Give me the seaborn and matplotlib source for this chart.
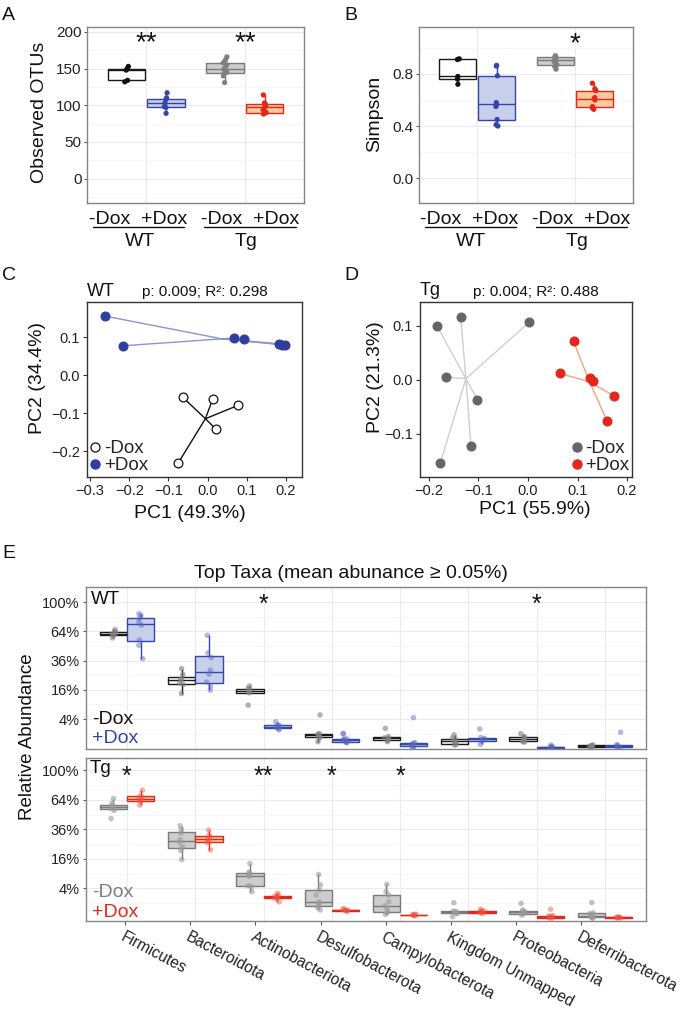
import numpy as np
import pandas as pd
import matplotlib
matplotlib.use('Agg')
import matplotlib.pyplot as plt
from matplotlib.lines import Line2D
from matplotlib.ticker import FixedLocator, FuncFormatter
import seaborn as sns

sns.set_theme(style='white')
plt.rcParams['font.family'] = ['Liberation Sans', 'DejaVu Sans']
plt.rcParams['axes.unicode_minus'] = True
np.random.seed(7)

# ---------------- data ----------------
genotypes = ['WT', 'Tg']
treatments = ['-Dox', '+Dox']

# A: Observed OTUs
otus_wt_minus = [132, 134, 148, 150, 153]
otus_wt_plus = [89, 97, 98, 103, 108, 110, 117]
otus_tg_minus = [131, 140, 143, 145, 149, 151, 155, 158, 162, 166]
otus_tg_plus = [88, 90, 90, 94, 97, 99, 102, 103, 114]
otus_stars = ['**', '**']

# B: Simpson
simpson_wt_minus = [0.72, 0.76, 0.78, 0.91, 0.915]
simpson_wt_plus = [0.40, 0.41, 0.45, 0.55, 0.565, 0.58, 0.785, 0.86, 0.865]
simpson_tg_minus = [0.836, 0.856, 0.869, 0.895, 0.903, 0.913, 0.928, 0.935, 0.938]
simpson_tg_plus = [0.528, 0.54, 0.549, 0.60, 0.61, 0.618, 0.672, 0.685, 0.728]
simpson_stars = ['', '*']

# C: PCoA WT
wt_minus_pc1 = [-0.064, 0.013, 0.077, 0.021, -0.075]
wt_minus_pc2 = [-0.058, -0.063, -0.080, -0.142, -0.231]
wt_plus_pc1 = [-0.262, -0.215, 0.067, 0.094, 0.183, 0.191, 0.197]
wt_plus_pc2 = [0.155, 0.077, 0.097, 0.096, 0.082, 0.080, 0.079]
wt_stats = 'p: 0.009; R²: 0.298'

# D: PCoA Tg
tg_minus_pc1 = [-0.184, -0.136, 0.003, -0.166, -0.102, -0.115, -0.177]
tg_minus_pc2 = [0.100, 0.117, 0.107, 0.005, -0.037, -0.123, -0.154]
tg_plus_pc1 = [0.092, 0.064, 0.125, 0.131, 0.174, 0.160]
tg_plus_pc2 = [0.071, 0.012, 0.003, -0.003, -0.030, -0.077]
tg_stats = 'p: 0.004; R²: 0.488'

# E: relative abundance (%) per taxon
taxa = ['Firmicutes', 'Bacteroidota', 'Actinobacteriota', 'Desulfobacterota',
        'Campylobacterota', 'Kingdom Unmapped', 'Proteobacteria', 'Deferribacterota']
wt_minus_abund = [
    [57, 59.5, 61, 62, 63.5, 66],
    [14, 19, 20, 22, 22.5, 25.5, 29.7],
    [8.7, 14.4, 15, 16, 16.8, 18.1],
    [0.2, 0.5, 0.6, 0.8, 0.95, 1.0, 5.2],
    [0.2, 0.3, 0.45, 0.5, 0.65, 1.85],
    [0.05, 0.07, 0.15, 0.25, 0.38, 0.5, 0.83],
    [0.18, 0.2, 0.3, 0.37, 0.5, 0.64, 1.0],
    [0.003, 0.01, 0.02, 0.025, 0.04, 0.05],
]
wt_plus_abund = [
    [37.5, 49.7, 55, 71, 74.6, 79, 82.6, 84.7],
    [15.8, 18.1, 20.5, 25.7, 28.5, 38.4, 42.5, 59.7],
    [1.56, 1.85, 2.1, 2.2, 2.4, 2.55, 3.3],
    [0.15, 0.15, 0.2, 0.27, 0.35, 0.41, 0.41, 0.96, 1.04],
    [0.0, 0.02, 0.05, 0.08, 0.12, 0.15, 4.4],
    [0.07, 0.25, 0.3, 0.37, 0.45, 0.53, 1.74],
    [0.0, 0.0, 0.005, 0.01, 0.015, 0.05],
    [0.0, 0.005, 0.02, 0.04, 0.06, 1.2],
]
tg_minus_abund = [
    [45.3, 53, 55, 56.6, 58, 60, 65.4],
    [15.7, 21, 23, 26, 28, 33, 36, 39],
    [3.2, 4.5, 4.8, 8.0, 8.4, 9.3, 9.6, 13.6],
    [0.3, 0.5, 0.69, 1.0, 1.21, 2.4, 3.58, 5.0, 8.7],
    [0.06, 0.15, 0.15, 0.42, 0.69, 1.2, 2.4, 3.2, 5.2],
    [0.01, 0.09, 0.12, 0.15, 0.2, 0.22, 1.08],
    [0.04, 0.08, 0.1, 0.18, 0.22, 0.3, 0.98],
    [0.0, 0.0, 0.005, 0.012, 0.05, 0.085, 0.13, 1.1],
]
tg_plus_abund = [
    [58.4, 62, 63.5, 65.4, 67, 68.6, 74.9],
    [21.2, 26, 27, 28.5, 30, 31.5, 35.4],
    [1.2, 1.7, 1.9, 2.07, 2.2, 2.4, 2.8],
    [0.2, 0.25, 0.28, 0.3, 0.33, 0.42],
    [0.02, 0.03, 0.04, 0.05, 0.06, 0.07],
    [0.1, 0.12, 0.15, 0.18, 0.22, 0.25, 0.37],
    [0.0, 0.0, 0.005, 0.01, 0.02, 0.03, 0.35],
    [0.0, 0.0, 0.001, 0.002, 0.003, 0.005],
]
wt_taxa_stars = ['', '', '*', '', '', '', '*', '']
tg_taxa_stars = ['*', '', '**', '*', '*', '', '', '']
abund_ticks_pct = [4, 16, 36, 64, 100]

# ---------------- styling ----------------
BLUE = '#3446A8'
BLUE_FILL = '#C8CFEA'
BLUE_LINE = '#8C93D2'
GRAY_EDGE = '#7A7A7A'
GRAY_FILL = '#CDCDCD'
RED = '#E3271D'
RED_FILL = '#FCCA9E'
RED_LINE = '#F4A27E'
BORDER = '#858585'
GRID_MAJ = '#EBEBEB'
GRID_MIN = '#F5F5F5'

W, H = 685, 1009
fig = plt.figure(figsize=(W / 100, H / 100), dpi=100)


def px_ax(l, t, r, b):
    return fig.add_axes([l / W, 1 - b / H, (r - l) / W, (b - t) / H])


def ftext(x, y, s, **kw):
    return fig.text(x / W, 1 - y / H, s, **kw)


def fline(x1, x2, y, **kw):
    fig.add_artist(Line2D([x1 / W, x2 / W], [1 - y / H, 1 - y / H], **kw))


def frame(ax, color=BORDER, lw=1.0):
    for sp in ax.spines.values():
        sp.set_visible(True)
        sp.set_color(color)
        sp.set_linewidth(lw)


# ---------------- A & B ----------------
ab_style = {
    ('WT', '-Dox'): ('white', '#1A1A1A', '#111111'),
    ('WT', '+Dox'): (BLUE_FILL, BLUE, BLUE),
    ('Tg', '-Dox'): (GRAY_FILL, GRAY_EDGE, '#808080'),
    ('Tg', '+Dox'): (RED_FILL, RED, RED),
}


def alpha_df(wm, wp, tm, tp):
    rows = []
    for g, t, vals in [('WT', '-Dox', wm), ('WT', '+Dox', wp),
                       ('Tg', '-Dox', tm), ('Tg', '+Dox', tp)]:
        rows += [(g, t, v) for v in vals]
    return pd.DataFrame(rows, columns=['geno', 'trt', 'val'])


def draw_alpha(ax, df, ylim, majors, minors, stars, star_y):
    for g in genotypes:
        for t in treatments:
            fill, edge, pt = ab_style[(g, t)]
            sub = df[(df.geno == g) & (df.trt == t)]
            sns.boxplot(data=sub, x='geno', y='val', hue='trt', order=genotypes,
                        hue_order=treatments, palette={tt: fill for tt in treatments},
                        linecolor=edge, linewidth=1.0, width=0.8, gap=0.05,
                        showfliers=False, showcaps=False, saturation=1, dodge=True,
                        legend=False, ax=ax)
            sns.stripplot(data=sub, x='geno', y='val', hue='trt', order=genotypes,
                          hue_order=treatments, palette={tt: pt for tt in treatments},
                          dodge=True, jitter=0.04, size=3.8, linewidth=0,
                          legend=False, ax=ax, zorder=4)
    ax.set_xlim(-0.6, 1.6)
    ax.set_ylim(*ylim)
    ax.yaxis.set_major_locator(FixedLocator(majors))
    ax.yaxis.set_minor_locator(FixedLocator(minors))
    ax.set_axisbelow(True)
    ax.grid(which='major', color=GRID_MAJ, lw=0.8)
    ax.grid(which='minor', axis='y', color=GRID_MIN, lw=0.6)
    ax.tick_params(axis='x', length=0, labelbottom=False)
    ax.tick_params(axis='y', which='major', length=2.5, width=0.8, color='#555555',
                   labelsize=11, pad=1.5, labelcolor='#222222', left=True)
    ax.tick_params(axis='y', which='minor', length=0)
    ax.set_xlabel('')
    ax.set_ylabel('')
    frame(ax)
    for i, s in enumerate(stars):
        if s:
            ax.text(i, star_y, s, ha='center', va='baseline', fontsize=20, color='#111111')


axA = px_ax(87, 27, 304, 203)
draw_alpha(axA, alpha_df(otus_wt_minus, otus_wt_plus, otus_tg_minus, otus_tg_plus),
           (-33.4, 206.8), [0, 50, 100, 150, 200], [-25, 25, 75, 125, 175],
           otus_stars, 175)
axA.yaxis.set_major_formatter(FuncFormatter(lambda v, p: f'{v:.0f}'))

axB = px_ax(419, 27, 633, 203)
draw_alpha(axB, alpha_df(simpson_wt_minus, simpson_wt_plus, simpson_tg_minus, simpson_tg_plus),
           (-0.19, 1.159), [0.0, 0.4, 0.8], [0.2, 0.6, 1.0],
           simpson_stars, 0.975)
axB.yaxis.set_major_formatter(FuncFormatter(lambda v, p: f'{v:.1f}'))

ftext(39, 112, 'Observed OTUs', rotation=90, ha='center', va='center', fontsize=14, color='#111111')
ftext(375, 114, 'Simpson', rotation=90, ha='center', va='center', fontsize=14, color='#111111')

for cx, lx1, lx2, gx, gname in [(138, 93, 184, 140, 'WT'), (250.5, 204, 296, 246, 'Tg'),
                                (469.5, 425, 516, 471, 'WT'), (581.5, 536, 627, 577, 'Tg')]:
    ftext(cx, 223.5, '-Dox  +Dox', ha='center', va='baseline', fontsize=14, color='#111111')
    fline(lx1, lx2, 226.5, color='#111111', lw=1.0)
    ftext(gx, 245.5, gname, ha='center', va='baseline', fontsize=14, color='#111111')

# ---------------- C & D ----------------
minus_fmt = FuncFormatter(lambda v, p: f'{v:.1f}'.replace('-', '\u2212') if abs(v) > 1e-9 else '0.0')


def draw_pcoa(ax, groups, xlim, ylim, xticks, yticks):
    for pc1, pc2, face, edge, linec in groups:
        cx, cy = np.mean(pc1), np.mean(pc2)
        for x, y in zip(pc1, pc2):
            ax.plot([cx, x], [cy, y], color=linec, lw=1.0, zorder=1)
        sns.scatterplot(x=pc1, y=pc2, color=face, edgecolor=edge, s=40, linewidth=0.9,
                        ax=ax, zorder=3, legend=False)
    ax.set_xlim(*xlim)
    ax.set_ylim(*ylim)
    ax.set_xticks(xticks)
    ax.set_yticks(yticks)
    ax.xaxis.set_major_formatter(minus_fmt)
    ax.yaxis.set_major_formatter(minus_fmt)
    ax.tick_params(axis='both', length=3, width=0.8, color='#333333', labelsize=10.5,
                   labelcolor='#222222', pad=2, bottom=True, left=True)
    ax.grid(False)
    frame(ax, color='#333333', lw=1.0)


axC = px_ax(87, 302, 302, 477)
draw_pcoa(axC, [(wt_plus_pc1, wt_plus_pc2, '#2F3F9F', '#2F3F9F', BLUE_LINE),
                (wt_minus_pc1, wt_minus_pc2, 'white', '#111111', '#111111')],
          (-0.308, 0.241), (-0.268, 0.192), [-0.3, -0.2, -0.1, 0.0, 0.1, 0.2], [-0.2, -0.1, 0.0, 0.1])
hC = [Line2D([], [], marker='o', ls='none', mfc='white', mec='#111111', mew=0.9, ms=6.5, label='-Dox'),
      Line2D([], [], marker='o', ls='none', mfc='#2F3F9F', mec='#2F3F9F', ms=6.5, label='+Dox')]
axC.legend(handles=hC, loc='lower left', frameon=False, fontsize=13.5, handlelength=0.6,
           handletextpad=0.15, labelspacing=0.0, borderaxespad=0.05, borderpad=0.1)

axD = px_ax(420, 302, 632, 477)
draw_pcoa(axD, [(tg_minus_pc1, tg_minus_pc2, '#666666', '#666666', '#CFCFCF'),
                (tg_plus_pc1, tg_plus_pc2, '#E3271D', '#E3271D', RED_LINE)],
          (-0.218, 0.21), (-0.18, 0.144), [-0.2, -0.1, 0.0, 0.1, 0.2], [-0.1, 0.0, 0.1])
hD = [Line2D([], [], marker='o', ls='none', mfc='#666666', mec='#666666', ms=6.5, label='-Dox'),
      Line2D([], [], marker='o', ls='none', mfc='#E3271D', mec='#E3271D', ms=6.5, label='+Dox')]
axD.legend(handles=hD, loc='lower right', frameon=False, fontsize=13.5, handlelength=0.6,
           handletextpad=0.15, labelspacing=0.0, borderaxespad=0.05, borderpad=0.1)

ftext(87, 295.5, 'WT', ha='left', va='baseline', fontsize=13, color='#111111')
ftext(142, 296, wt_stats, ha='left', va='baseline', fontsize=11, color='#111111')
ftext(420, 294.5, 'Tg', ha='left', va='baseline', fontsize=13, color='#111111')
ftext(473, 296, tg_stats, ha='left', va='baseline', fontsize=11, color='#111111')
ftext(38, 378, 'PC2 (34.4%)', rotation=90, ha='center', va='center', fontsize=14, color='#111111')
ftext(190, 514, 'PC1 (49.3%)', ha='center', va='center', fontsize=14, color='#111111')
ftext(375, 377, 'PC2 (21.3%)', rotation=90, ha='center', va='center', fontsize=14, color='#111111')
ftext(535, 510, 'PC1 (55.9%)', ha='center', va='center', fontsize=14, color='#111111')

# ---------------- E ----------------
def abund_df(minus_lists, plus_lists):
    rows = []
    for t, lists in [('-Dox', minus_lists), ('+Dox', plus_lists)]:
        for taxon, vals in zip(taxa, lists):
            rows += [(taxon, t, v) for v in vals]
    df = pd.DataFrame(rows, columns=['taxon', 'trt', 'pct'])
    df['sq'] = np.sqrt(df['pct'])  # square-root scale, as in the original
    return df


def draw_abund(ax, df, styles, ylim, stars, star_base, show_x):
    for t in treatments:
        fill, edge, pt, pa = styles[t]
        sub = df[df.trt == t]
        sns.boxplot(data=sub, x='taxon', y='sq', hue='trt', order=taxa, hue_order=treatments,
                    palette={tt: fill for tt in treatments}, linecolor=edge, linewidth=1.0,
                    width=0.8, gap=0.0, showfliers=False, showcaps=False, saturation=1,
                    dodge=True, legend=False, ax=ax)
        sns.stripplot(data=sub, x='taxon', y='sq', hue='trt', order=taxa, hue_order=treatments,
                      palette={tt: pt for tt in treatments}, dodge=True, jitter=0.07, size=4,
                      alpha=pa, linewidth=0, legend=False, ax=ax, zorder=4)
    ax.set_xlim(-0.6, len(taxa) - 0.4)
    ax.set_ylim(*ylim)
    sq_ticks = np.sqrt(abund_ticks_pct)
    ax.yaxis.set_major_locator(FixedLocator(sq_ticks))
    ax.set_yticklabels([f'{p}%' for p in abund_ticks_pct])
    ax.yaxis.set_minor_locator(FixedLocator([1, 3, 5, 7, 9, 11]))
    ax.set_axisbelow(True)
    ax.set_xticks(range(len(taxa)))
    ax.grid(which='major', color=GRID_MAJ, lw=0.8)
    ax.grid(which='minor', axis='y', color=GRID_MIN, lw=0.6)
    ax.tick_params(axis='y', which='major', length=2.5, width=0.8, color='#555555',
                   labelsize=10.5, pad=2, labelcolor='#222222', left=True)
    ax.tick_params(axis='y', which='minor', length=0)
    ax.tick_params(axis='x', which='major', length=0, labelbottom=False)
    if show_x:
        # in the original the label row is slightly compressed relative to the boxes
        lab_pos = -0.029 + 0.9547 * np.arange(len(taxa))
        ax.set_xticks(lab_pos, minor=True)
        ax.set_xticklabels(taxa, minor=True, rotation=-28, ha='left', va='top',
                           rotation_mode='anchor', fontsize=11.2, color='#222222')
        ax.tick_params(axis='x', which='minor', length=3, width=0.8, color='#555555',
                       pad=3, bottom=True, labelbottom=True)
    ax.set_xlabel('')
    ax.set_ylabel('')
    frame(ax)
    for i, s in enumerate(stars):
        if s:
            ax.text(i, star_base, s, ha='center', va='baseline', fontsize=18, color='#111111')


axE1 = px_ax(86, 587, 646, 749)
draw_abund(axE1, abund_df(wt_minus_abund, wt_plus_abund),
           {'-Dox': ('white', '#1A1A1A', '#808080', 0.6),
            '+Dox': (BLUE_FILL, BLUE, '#5563C0', 0.45)},
           (-0.05, 11.03), wt_taxa_stars, 9.35, False)

axE2 = px_ax(86, 758, 646, 921)
draw_abund(axE2, abund_df(tg_minus_abund, tg_plus_abund),
           {'-Dox': (GRAY_FILL, GRAY_EDGE, '#9A9A9A', 0.6),
            '+Dox': (RED_FILL, RED, '#EE5040', 0.45)},
           (-0.2, 10.83), tg_taxa_stars, 9.1, True)

ftext(351, 578, 'Top Taxa (mean abunance ≥ 0.05%)', ha='center', va='baseline', fontsize=14, color='#111111')
ftext(28, 737, 'Relative Abundance', rotation=90, ha='center', va='center', fontsize=13.5, color='#111111')
ftext(91, 604, 'WT', ha='left', va='baseline', fontsize=13.5, color='#111111')
ftext(92, 724, '-Dox', ha='left', va='baseline', fontsize=14, color='#111111')
ftext(92, 743, '+Dox', ha='left', va='baseline', fontsize=14, color=BLUE)
ftext(90, 773, 'Tg', ha='left', va='baseline', fontsize=13.5, color='#111111')
ftext(92, 897, '-Dox', ha='left', va='baseline', fontsize=14, color='#7F7F7F')
ftext(92, 917, '+Dox', ha='left', va='baseline', fontsize=14, color=RED)

# panel letters
for letter, x, y in [('A', 2, 20.5), ('B', 344, 20.5), ('C', 2, 280), ('D', 344, 280), ('E', 2, 558)]:
    ftext(x, y, letter, ha='left', va='baseline', fontsize=14, color='#111111')

fig.savefig('out.png', dpi=100)
